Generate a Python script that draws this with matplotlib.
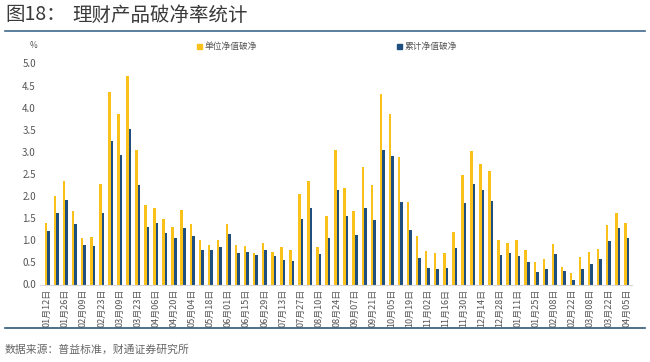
import matplotlib
matplotlib.use("Agg")
import matplotlib.pyplot as plt
import matplotlib.lines as mlines
import matplotlib.patches as mpatches
import numpy as np

plt.rcParams['font.family'] = ['Noto Sans CJK SC', 'DejaVu Sans']

# weekly dates (2023-01-12 .. 2024-04-05)
dates = ["01月12日", "01月19日", "01月26日", "02月02日", "02月09日", "02月16日", "02月23日",
         "03月02日", "03月09日", "03月16日", "03月23日", "03月30日", "04月06日", "04月13日",
         "04月20日", "04月27日", "05月04日", "05月11日", "05月18日", "05月25日", "06月01日",
         "06月08日", "06月15日", "06月22日", "06月29日", "07月06日", "07月13日", "07月20日",
         "07月27日", "08月03日", "08月10日", "08月17日", "08月24日", "08月31日", "09月07日",
         "09月14日", "09月21日", "09月28日", "10月05日", "10月12日", "10月19日", "10月26日",
         "11月02日", "11月09日", "11月16日", "11月23日", "11月30日", "12月07日", "12月14日",
         "12月21日", "12月28日", "01月04日", "01月11日", "01月18日", "01月25日", "02月01日",
         "02月08日", "02月15日", "02月22日", "02月29日", "03月08日", "03月15日", "03月22日",
         "03月29日", "04月05日"]

unit_nav = [1.40, 2.01, 2.34, 1.67, 1.06, 1.08, 2.28, 4.36, 3.86, 4.71, 3.05, 1.79, 1.73, 1.49,
            1.29, 1.68, 1.36, 1.00, 0.89, 1.00, 1.36, 0.90, 0.87, 0.72, 0.95, 0.74, 0.84, 0.78,
            2.05, 2.35, 0.85, 1.56, 3.05, 2.18, 1.67, 2.65, 2.26, 4.30, 3.85, 2.89, 1.86, 1.09,
            0.75, 0.72, 0.72, 1.18, 2.47, 3.02, 2.72, 2.56, 1.00, 0.94, 1.00, 0.79, 0.51, 0.57,
            0.92, 0.40, 0.26, 0.63, 0.73, 0.81, 1.35, 1.62, 1.40]

cum_nav = [1.21, 1.61, 1.91, 1.37, 0.90, 0.88, 1.62, 3.24, 2.94, 3.51, 2.26, 1.29, 1.40, 1.17,
           1.05, 1.28, 1.09, 0.78, 0.78, 0.85, 1.15, 0.72, 0.73, 0.67, 0.79, 0.64, 0.56, 0.53,
           1.48, 1.73, 0.68, 1.06, 2.13, 1.56, 1.12, 1.74, 1.47, 3.05, 2.90, 1.86, 1.24, 0.60,
           0.37, 0.35, 0.38, 0.83, 1.85, 2.28, 2.14, 1.90, 0.66, 0.72, 0.64, 0.52, 0.28, 0.35,
           0.68, 0.31, 0.11, 0.36, 0.47, 0.57, 0.99, 1.27, 1.06]

YELLOW = "#FBC11B"
BLUE = "#1E4F7E"
GREY = "#555555"

fig = plt.figure(figsize=(6.5, 3.62), dpi=100)
ax = fig.add_axes([40/650, 1 - 284.5/362, 592/650, 221/362])

x = np.arange(len(dates))
w = 0.28
ax.bar(x - w/2, unit_nav, width=w, color=YELLOW, label="单位净值破净")
ax.bar(x + w/2, cum_nav, width=w, color=BLUE, label="累计净值破净")

ax.set_xlim(-0.8, len(dates) - 0.4)
ax.set_ylim(0, 5.0)
ax.set_yticks(np.arange(0, 5.01, 0.5))
ax.set_yticklabels([f"{v:.1f}" for v in np.arange(0, 5.01, 0.5)], fontsize=7, color=GREY)
ax.set_xticks(x[::2])
ax.set_xticklabels(dates[::2], rotation=90, fontsize=6.5, color=GREY)
ax.tick_params(axis='both', length=0, pad=3)
for s in ["top", "right", "left"]:
    ax.spines[s].set_visible(False)
ax.spines["bottom"].set_color("#d9d9d9")
ax.spines["bottom"].set_linewidth(0.8)

# legends
h1 = mpatches.Patch(color=YELLOW, label="单位净值破净")
h2 = mpatches.Patch(color=BLUE, label="累计净值破净")
leg1 = fig.legend(handles=[h1], loc="center left", bbox_to_anchor=(189/650, 1 - 47/362),
                  frameon=False, fontsize=6.3, handlelength=0.55, handleheight=0.55, handletextpad=0.35)
leg2 = fig.legend(handles=[h2], loc="center left", bbox_to_anchor=(389/650, 1 - 47/362),
                  frameon=False, fontsize=6.3, handlelength=0.55, handleheight=0.55, handletextpad=0.35)
for t in leg1.get_texts() + leg2.get_texts():
    t.set_color(GREY)

fig.text(33/650, 1 - 45/362, "%", fontsize=6, color=GREY, ha="center", va="center")

# header / footer
fig.text(5/650, 1 - 15/362, "图18：", fontsize=14, color="#3a3a3a", va="center")
fig.text(72/650, 1 - 15/362, "理财产品破净率统计", fontsize=14, color="#3a3a3a", va="center")
fig.add_artist(mlines.Line2D([5/650, 645/650], [1 - 31/362, 1 - 31/362], color="#3E6A8C", lw=1.2))
fig.add_artist(mlines.Line2D([5/650, 645/650], [1 - 328/362, 1 - 328/362], color="#2D5878", lw=1.2))
fig.text(5/650, 1 - 350/362, "数据来源：普益标准，财通证券研究所", fontsize=7.8, color="#666666", va="center")

fig.savefig("out.png", dpi=100)
